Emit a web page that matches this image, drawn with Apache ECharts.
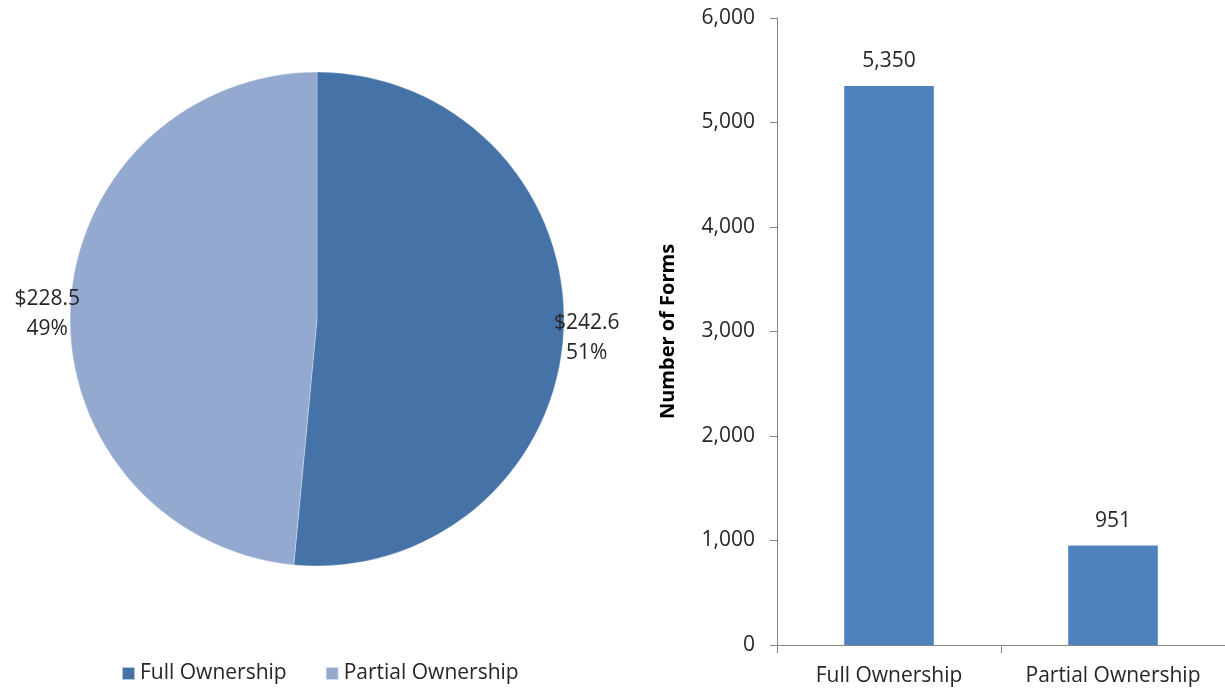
<!DOCTYPE html>
<html>
<head>
<meta charset="utf-8">
<script src="https://cdn.jsdelivr.net/npm/echarts@6/dist/echarts.min.js"></script>
<style>
html,body{margin:0;padding:0;background:#fff;}
#chart{width:1225px;height:688px;}
</style>
</head>
<body>
<div id="chart"></div>
<script>
const pieCategories = ['Full Ownership', 'Partial Ownership'];
const pieValues = [242.6, 228.5];
const pieColors = ['#4573A7', '#94A9D0'];

const barCategories = ['Full Ownership', 'Partial Ownership'];
const barValues = [5350, 951];
const yTicks = { min: 0, max: 6000, interval: 1000 };

const FONT = '"Open Sans", sans-serif';
const TXT = '#262626';

const chart = echarts.init(document.getElementById('chart'), null, { renderer: 'canvas' });

const total = pieValues.reduce((a, b) => a + b, 0);

chart.setOption({
  animation: false,
  textStyle: { fontFamily: FONT, color: TXT },
  legend: {
    data: pieCategories,
    left: 121,
    top: 663,
    padding: 0,
    itemWidth: 13,
    itemHeight: 13,
    itemGap: 38,
    icon: 'rect',
    textStyle: { fontFamily: FONT, fontSize: 21, color: TXT }
  },
  grid: { left: 777, right: 0, top: 18, bottom: 43, containLabel: false },
  xAxis: {
    type: 'category',
    data: barCategories,
    axisLine: { lineStyle: { color: '#868686', width: 1 } },
    axisTick: { show: true, length: 8, lineStyle: { color: '#868686' } },
    axisLabel: { interval: 0, hideOverlap: false, fontFamily: FONT, fontSize: 21, color: TXT, margin: 21 }
  },
  yAxis: {
    type: 'value',
    min: yTicks.min,
    max: yTicks.max,
    interval: yTicks.interval,
    name: 'Number of Forms',
    nameLocation: 'middle',
    nameGap: 99,
    nameTextStyle: { fontFamily: FONT, fontSize: 20, fontWeight: 'bold', color: '#000' },
    axisLine: { show: true, lineStyle: { color: '#868686', width: 1 } },
    axisTick: { show: true, length: 7, lineStyle: { color: '#868686' } },
    splitLine: { show: false },
    axisLabel: {
      fontFamily: FONT, fontSize: 21, color: TXT, margin: 22,
      formatter: v => v.toLocaleString('en-US')
    }
  },
  series: [
    {
      type: 'pie',
      center: [317, 319],
      radius: 247,
      startAngle: 90,
      clockwise: true,
      data: pieCategories.map((n, i) => ({ name: n, value: pieValues[i], itemStyle: { color: pieColors[i] } })),
      itemStyle: { borderColor: 'rgba(255,255,255,0.6)', borderWidth: 0.5 },
      label: {
        show: true,
        position: 'outside',
        fontFamily: FONT,
        fontSize: 21,
        lineHeight: 30,
        color: TXT,
        align: 'center',
        overflow: 'none',
        width: 90,
        formatter: p => '$' + p.value.toFixed(1) + '\n' + Math.round(p.value / total * 100) + '%'
      },
      labelLine: { show: false, length: 18, length2: 0 },
      labelLayout: { align: 'center', verticalAlign: 'middle', dy: 7 },
      emphasis: { disabled: true }
    },
    {
      type: 'bar',
      data: barValues,
      barCategoryGap: '60%',
      itemStyle: { color: '#4F81BD' },
      label: {
        show: true,
        position: 'top',
        distance: 14,
        fontFamily: FONT,
        fontSize: 21,
        color: TXT,
        formatter: p => p.value.toLocaleString('en-US')
      }
    }
  ]
});
</script>
</body>
</html>
